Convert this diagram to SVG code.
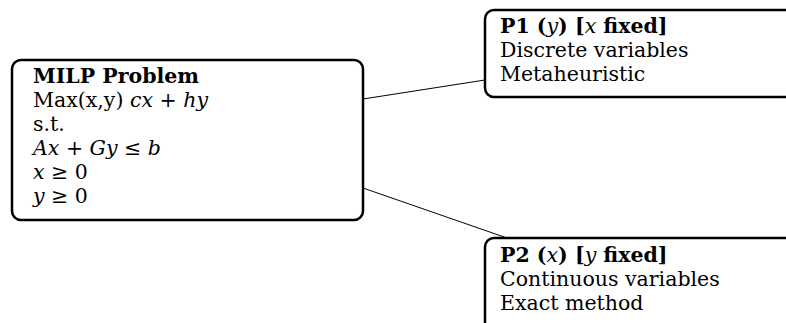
<svg xmlns="http://www.w3.org/2000/svg" width="786" height="323" viewBox="0 0 786 323">
<style>
.box{fill:#fff;stroke:#000;stroke-width:2.5}
.t{font-family:"DejaVu Serif","Liberation Serif",serif;font-size:20.5px;fill:#000}
.b{font-weight:bold}
.i{font-style:italic}
.edge{stroke:#000;stroke-width:1;fill:none}
</style>
<rect width="786" height="323" fill="#fff"/>
<g id="connectors">
<line class="edge" x1="363" y1="99" x2="485" y2="80"/>
<line class="edge" x1="363" y1="188" x2="507" y2="238"/>
</g>
<g id="milp">
<rect class="box" x="12" y="60" width="351" height="160" rx="9"/>
<text class="t" x="33" y="83"><tspan class="b">MILP Problem</tspan></text>
<text class="t" x="33" y="107">Max(x,y) <tspan class="i">cx</tspan> + <tspan class="i">hy</tspan></text>
<text class="t" x="33" y="131">s.t.</text>
<text class="t" x="33" y="155"><tspan class="i">Ax</tspan> + <tspan class="i">Gy</tspan> ≤ <tspan class="i">b</tspan></text>
<text class="t" x="33" y="179"><tspan class="i">x</tspan> ≥ 0</text>
<text class="t" x="33" y="203"><tspan class="i">y</tspan> ≥ 0</text>
</g>
<g id="p1">
<rect class="box" x="485" y="10" width="400" height="87" rx="9"/>
<text class="t" x="500" y="33"><tspan class="b">P1 (</tspan><tspan class="i">y</tspan><tspan class="b">) [</tspan><tspan class="i">x</tspan><tspan class="b"> fixed]</tspan></text>
<text class="t" x="500" y="57">Discrete variables</text>
<text class="t" x="500" y="81">Metaheuristic</text>
</g>
<g id="p2">
<rect class="box" x="485" y="238" width="400" height="120" rx="9"/>
<text class="t" x="500" y="262"><tspan class="b">P2 (</tspan><tspan class="i">x</tspan><tspan class="b">) [</tspan><tspan class="i">y</tspan><tspan class="b"> fixed]</tspan></text>
<text class="t" x="500" y="286">Continuous variables</text>
<text class="t" x="500" y="310">Exact method</text>
</g>
</svg>
